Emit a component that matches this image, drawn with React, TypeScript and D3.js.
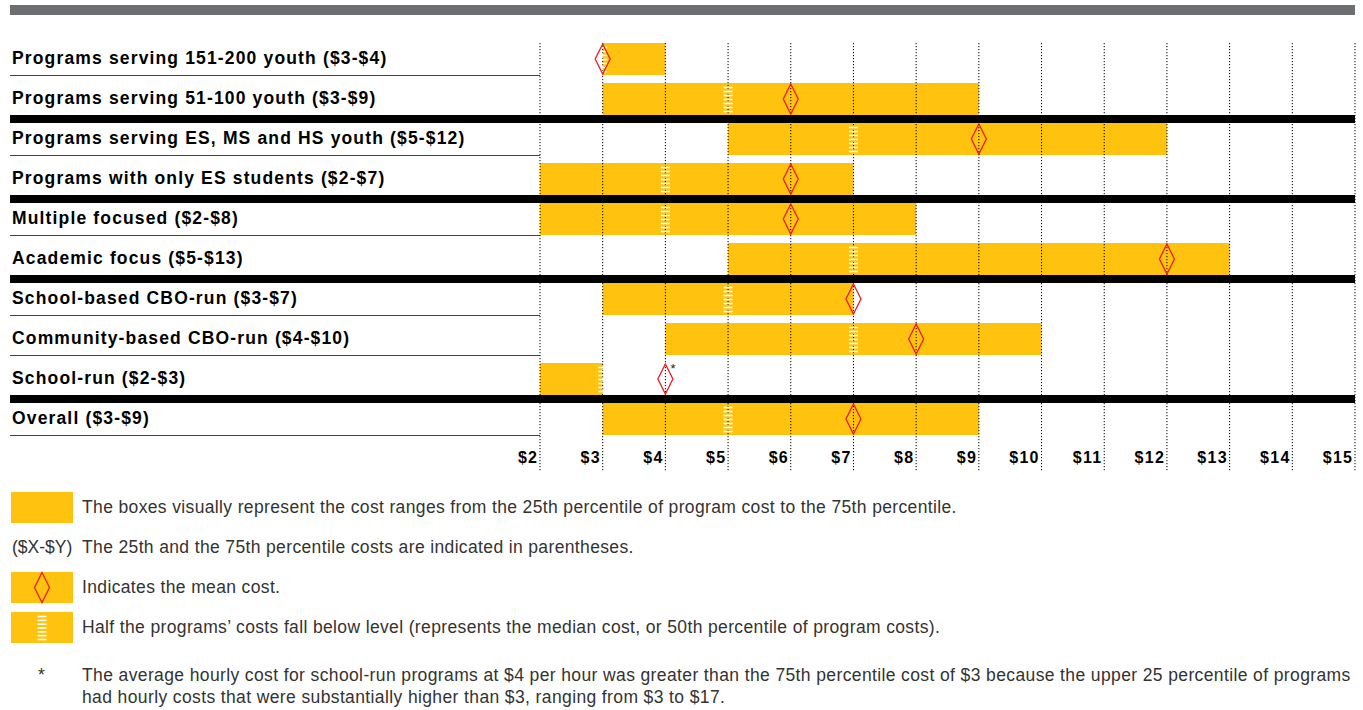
import React from "react";
import * as d3 from "d3";

const categories = [
  "Programs serving 151-200 youth ($3-$4)",
  "Programs serving 51-100 youth ($3-$9)",
  "Programs serving ES, MS and HS youth ($5-$12)",
  "Programs with only ES students ($2-$7)",
  "Multiple focused ($2-$8)",
  "Academic focus ($5-$13)",
  "School-based CBO-run ($3-$7)",
  "Community-based CBO-run ($4-$10)",
  "School-run ($2-$3)",
  "Overall ($3-$9)",
];
const p25 = [3, 3, 5, 2, 2, 5, 3, 4, 2, 3];
const p75 = [4, 9, 12, 7, 8, 13, 7, 10, 3, 9];
const medians = [3, 5, 7, 4, 4, 7, 5, 7, 3, 5];
const means = [3, 6, 9, 6, 6, 12, 7, 8, 4, 7];
const meanNote = ["", "", "", "", "", "", "", "", "*", ""];
// separator below each row: "thin" (label area only) or "thick" (full width)
const separators = ["thin", "thick", "thin", "thick", "thin", "thick", "thin", "thin", "thick", "thin"];
const ticks = [2, 3, 4, 5, 6, 7, 8, 9, 10, 11, 12, 13, 14, 15];

const legendTexts = [
  "The boxes visually represent the cost ranges from the 25th percentile of program cost to the 75th percentile.",
  "The 25th and the 75th percentile costs are indicated in parentheses.",
  "Indicates the mean cost.",
  "Half the programs\u2019 costs fall below level (represents the median cost, or 50th percentile of program costs).",
];
const footnote = [
  "The average hourly cost for school-run programs at $4 per hour was greater than the 75th percentile cost of $3 because the upper 25 percentile of programs",
  "had hourly costs that were substantially higher than $3, ranging from $3 to $17.",
];

const YELLOW = "#FEC20F";
const RED = "#EC1C24";

const x = d3.scaleLinear().domain([2, 15]).range([540, 1355]);
const y = d3.scaleBand<number>().domain(d3.range(categories.length)).range([43, 443]).paddingInner(0);
const BAR_H = 32;

function Median({ cx, top, h }: { cx: number; top: number; h: number }) {
  const n = 7;
  const ys = d3.range(n).map((i) => top + 4.5 + i * ((h - 8) / (n - 1)));
  return (
    <g>
      {ys.map((yy, i) => (
        <line key={i} x1={cx - 4.5} x2={cx + 4.5} y1={yy} y2={yy} stroke="#fff" strokeWidth={1.6} />
      ))}
    </g>
  );
}

function Diamond({ cx, cy }: { cx: number; cy: number }) {
  const w = 7.5, h = 15;
  return (
    <path
      d={`M${cx},${cy - h} L${cx + w},${cy} L${cx},${cy + h} L${cx - w},${cy} Z`}
      fill="none"
      stroke={RED}
      strokeWidth={1.3}
    />
  );
}

export default function App() {
  const labelFont = "'Liberation Sans', Arial, Helvetica, sans-serif";
  return (
    <svg
      width={1363}
      height={710}
      style={{ position: "absolute", left: 0, top: 0, background: "#fff" }}
      fontFamily={labelFont}
    >
      <rect x={10} y={5} width={1345} height={10} fill="#6D6E71" />

      {/* bars */}
      {categories.map((c, i) => {
        const top = y(i)!;
        return (
          <rect key={"b" + i} x={x(p25[i])} y={top} width={x(p75[i]) - x(p25[i])} height={BAR_H} fill={YELLOW} />
        );
      })}

      {/* separators */}
      {separators.map((s, i) => {
        const top = y(i)!;
        return s === "thick" ? (
          <rect key={"s" + i} x={10} y={top + BAR_H} width={1345} height={8} fill="#000" />
        ) : (
          <line key={"s" + i} x1={10} x2={540} y1={top + BAR_H + 0.5} y2={top + BAR_H + 0.5} stroke="#444" strokeWidth={1.2} />
        );
      })}

      {/* grid */}
      {ticks.map((t) => (
        <line key={"g" + t} x1={x(t)} x2={x(t)} y1={43} y2={472} stroke="#000" strokeWidth={1} strokeDasharray="1.2,1.8" />
      ))}

      {/* medians */}
      {categories.map((c, i) => (
        <Median key={"m" + i} cx={x(medians[i])} top={y(i)!} h={BAR_H} />
      ))}

      {/* means */}
      {categories.map((c, i) => {
        const cy = y(i)! + BAR_H / 2;
        return (
          <g key={"d" + i}>
            <Diamond cx={x(means[i])} cy={cy} />
            {meanNote[i] && (
              <text x={x(means[i]) + 5} y={cy - 6} fontSize={13} fill="#222">
                {meanNote[i]}
              </text>
            )}
          </g>
        );
      })}

      {/* row labels */}
      {categories.map((c, i) => (
        <text key={"l" + i} x={12} y={y(i)! + 21} fontSize={17.5} fontWeight="bold" letterSpacing={1.15} fill="#000">
          {c}
        </text>
      ))}

      {/* axis labels */}
      {ticks.map((t) => (
        <text key={"t" + t} x={x(t) - 3 + 1.3} y={463} fontSize={16} fontWeight="bold" letterSpacing={1.3} textAnchor="end" fill="#000">
          {"$" + t}
        </text>
      ))}

      {/* legend */}
      <g fontSize={17.5} fill="#333" letterSpacing={0.36}>
        <rect x={11} y={492} width={62} height={31} fill={YELLOW} />
        <text x={82} y={513}>{legendTexts[0]}</text>

        <text x={12} y={553} letterSpacing={0}>($X-$Y)</text>
        <text x={82} y={553}>{legendTexts[1]}</text>

        <rect x={11} y={572} width={62} height={31} fill={YELLOW} />
        <Diamond cx={42} cy={587.5} />
        <text x={82} y={593}>{legendTexts[2]}</text>

        <rect x={11} y={612} width={62} height={31} fill={YELLOW} />
        <Median cx={42} top={612} h={31} />
        <text x={82} y={633}>{legendTexts[3]}</text>

        <text x={38} y={681}>*</text>
        <text x={82} y={681} letterSpacing={0.38}>{footnote[0]}</text>
        <text x={82} y={703} letterSpacing={0.38}>{footnote[1]}</text>
      </g>
    </svg>
  );
}
